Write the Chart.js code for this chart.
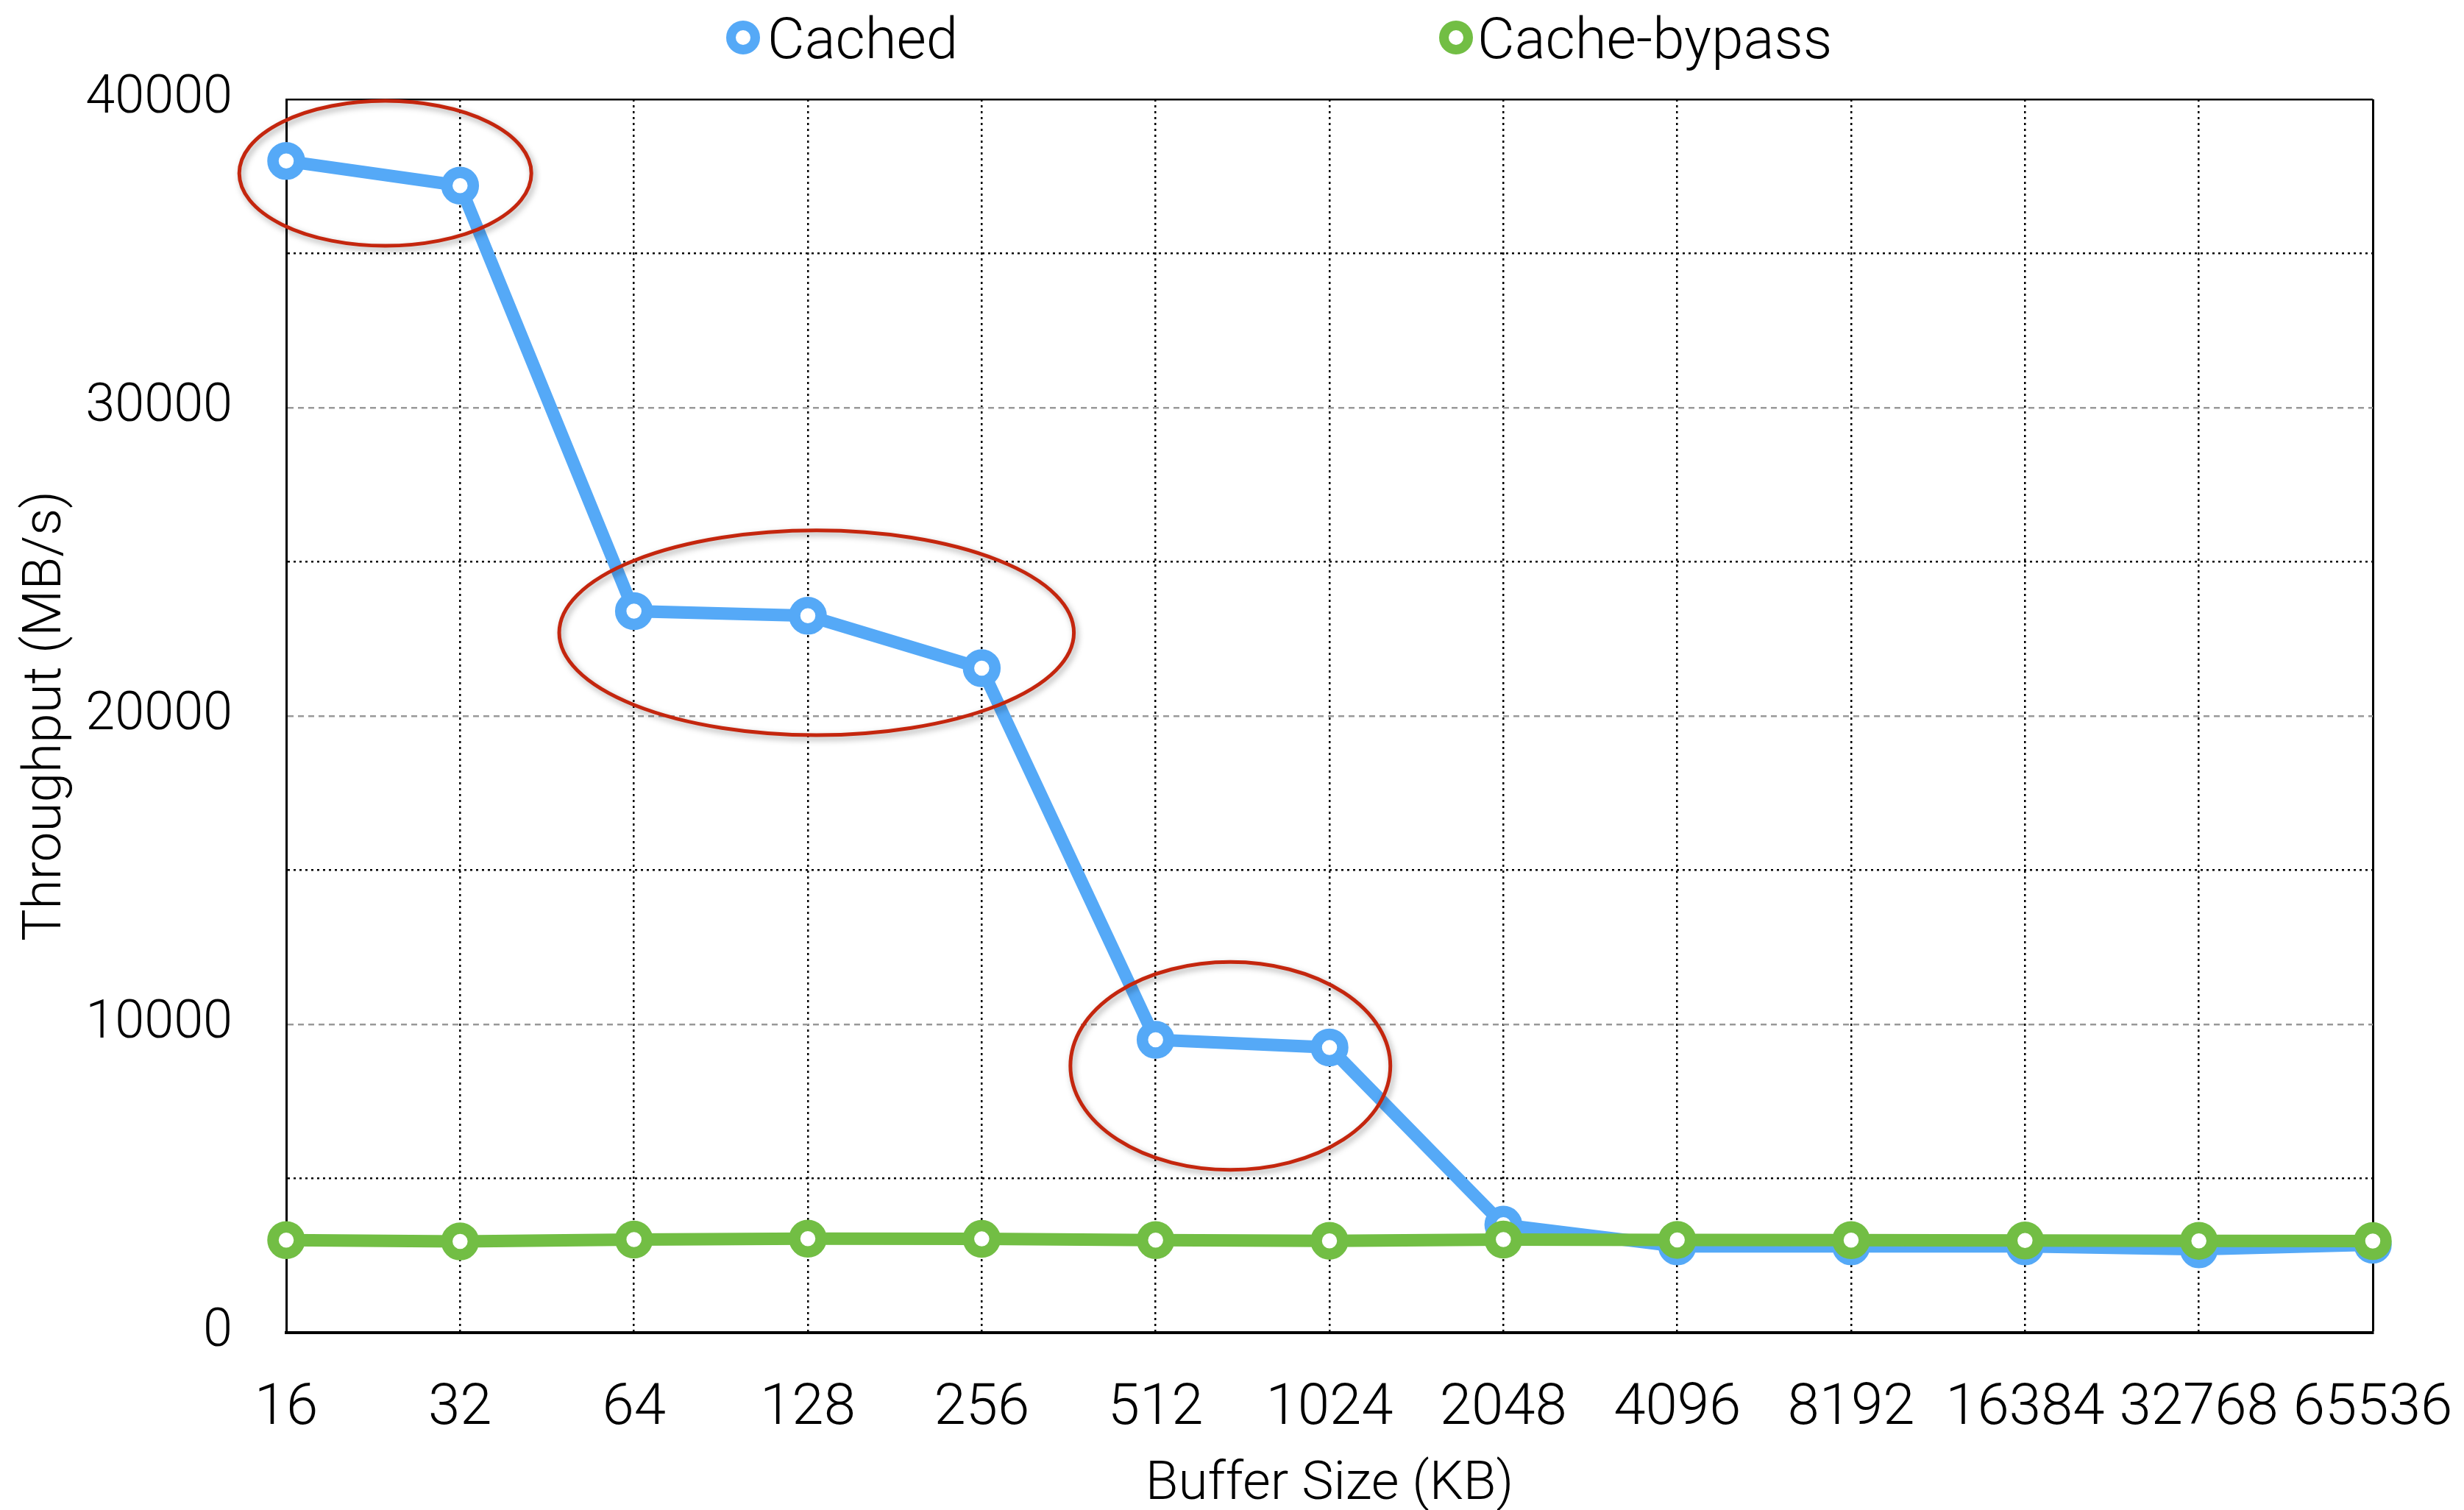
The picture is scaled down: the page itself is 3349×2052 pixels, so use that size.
<!DOCTYPE html>
<html>
<head>
<meta charset="utf-8">
<script src="https://cdn.jsdelivr.net/npm/chart.js@4.4.1/dist/chart.umd.min.js"></script>
<style>
  html, body { margin: 0; padding: 0; background: #fff; }
  #wrap { position: relative; width: 3349px; height: 2052px; }
  .lg-mark { position: absolute; width: 20px; height: 20px; border-radius: 50%; border: 13px solid; background: #fff; }
  .lg-text { position: absolute; font-family: Roboto, sans-serif; font-weight: 300; font-size: 78px; line-height: 90px; color: #000; white-space: nowrap; }
</style>
</head>
<body>
<div id="wrap">
  <canvas id="throughputChart" width="3349" height="2052"></canvas>
  <div class="lg-mark" style="left:987px; top:28px; border-color:#55a9f7;"></div>
  <div class="lg-text" style="left:1043px; top:8px;">Cached</div>
  <div class="lg-mark" style="left:1956px; top:28px; border-color:#72be44;"></div>
  <div class="lg-text" style="left:2008px; top:8px;">Cache-bypass</div>
</div>
<script>
const bufferSizes = ['16', '32', '64', '128', '256', '512', '1024', '2048', '4096', '8192', '16384', '32768', '65536'];
const cachedValues = [38000, 37200, 23400, 23250, 21550, 9500, 9250, 3500, 2800, 2800, 2800, 2700, 2850];
const bypassValues = [3000, 2960, 3020, 3050, 3040, 3000, 2980, 3020, 3010, 3000, 2990, 2980, 2970];

// red ellipses: centre (category index, value) and radii (categories, value units)
const highlightCx = [0.57, 3.05, 5.43];
const highlightCy = [37600, 22700, 8650];
const highlightRx = [0.84, 1.48, 0.92];
const highlightRy = [2350, 3320, 3370];

const blue = '#55a9f7';
const green = '#72be44';

const ellipsePlugin = {
  id: 'ellipses',
  afterDatasetsDraw(chart) {
    const {ctx, scales: {x, y}} = chart;
    const step = x.getPixelForValue(1) - x.getPixelForValue(0);
    ctx.save();
    ctx.strokeStyle = '#c4260e';
    ctx.lineWidth = 5;
    ctx.shadowColor = 'rgba(0,0,0,0.35)';
    ctx.shadowBlur = 8;
    ctx.shadowOffsetX = 3;
    ctx.shadowOffsetY = 4;
    for (let i = 0; i < highlightCx.length; i++) {
      const cx = x.getPixelForValue(0) + highlightCx[i] * step;
      const cy = y.getPixelForValue(highlightCy[i]);
      const rx = highlightRx[i] * step;
      const ry = Math.abs(y.getPixelForValue(highlightCy[i] + highlightRy[i]) - cy);
      ctx.beginPath();
      ctx.ellipse(cx, cy, rx, ry, 0, 0, Math.PI * 2);
      ctx.stroke();
    }
    ctx.restore();
  }
};

const data = {
  labels: bufferSizes,
  datasets: [{
    label: 'Cached',
    data: cachedValues,
    borderColor: blue,
    backgroundColor: '#fff',
    pointBorderColor: blue,
    pointBackgroundColor: '#fff',
    borderWidth: 17,
    pointRadius: 18,
    pointBorderWidth: 15.5,
    tension: 0,
    order: 1,
  }, {
    label: 'Cache-bypass',
    data: bypassValues,
    borderColor: green,
    backgroundColor: '#fff',
    pointBorderColor: green,
    pointBackgroundColor: '#fff',
    borderWidth: 17,
    pointRadius: 18,
    pointBorderWidth: 15.5,
    tension: 0,
    order: 0,
  }],
};

const options = {
  responsive: false,
  animation: false,
  clip: false,
  layout: {
    padding: { top: 135, right: 124, left: 0, bottom: 0 },
  },
  plugins: {
    legend: { display: false },
    tooltip: { enabled: false },
  },
  scales: {
    x: {
      afterFit(scale) {
        scale.height = 241;
        scale.paddingLeft = 0;
        scale.paddingRight = 0;
      },
      grid: {
        drawTicks: false,
        lineWidth: (ctx) => (ctx.index === bufferSizes.length - 1 ? 3 : 2.5),
        color: '#000',
      },
      border: {
        color: '#000',
        width: 4,
        dash: (ctx) => (ctx.index === bufferSizes.length - 1 ? [] : [3, 5]),
      },
      ticks: {
        color: '#000',
        padding: 58,
        maxRotation: 0,
        autoSkip: false,
        font: { family: 'Roboto', weight: 300, size: 78 },
      },
      title: {
        display: true,
        text: 'Buffer Size (KB)',
        color: '#000',
        padding: { top: 0, bottom: 0 },
        font: { family: 'Roboto', weight: 300, size: 73, lineHeight: 0.9 },
      },
    },
    y: {
      min: 0,
      max: 40000,
      afterFit(scale) { scale.width = 389; },
      grid: {
        drawTicks: false,
        lineWidth: 2.5,
        color: (ctx) => {
          const v = ctx.tick ? ctx.tick.value : 0;
          if (v === 40000) return '#000';
          return v % 10000 === 0 ? '#999' : '#000';
        },
      },
      border: {
        color: '#000',
        width: 3,
        dash: (ctx) => {
          const v = ctx.tick ? ctx.tick.value : 0;
          if (v === 40000) return [];
          return v % 10000 === 0 ? [8, 6] : [3, 5];
        },
      },
      ticks: {
        stepSize: 5000,
        color: '#000',
        padding: 73,
        font: { family: 'Roboto', weight: 300, size: 72 },
        callback: (value) => (value % 10000 === 0 ? value : ''),
      },
      title: {
        display: true,
        text: 'Throughput (MB/s)',
        color: '#000',
        padding: { top: 24, bottom: 0 },
        font: { family: 'Roboto', weight: 300, size: 73, lineHeight: 1.1 },
      },
    },
  },
};

const ctx = document.getElementById('throughputChart').getContext('2d');
const throughputChart = new Chart(ctx, {
  type: 'line',
  data: data,
  options: options,
  plugins: [ellipsePlugin],
});
</script>
</body>
</html>
